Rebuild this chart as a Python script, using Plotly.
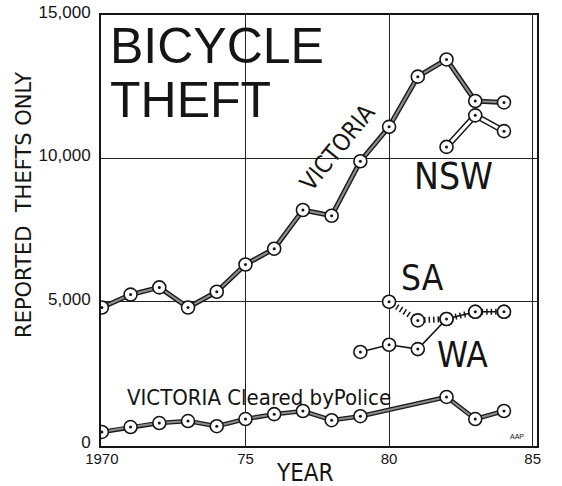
import plotly.graph_objects as go

years_vic = [1970, 1971, 1972, 1973, 1974, 1975, 1976, 1977, 1978, 1979, 1980, 1981, 1982, 1983, 1984]
victoria = [4800, 5250, 5500, 4800, 5350, 6300, 6850, 8200, 8000, 9900, 11100, 12850, 13450, 12000, 11950]

years_nsw = [1982, 1983, 1984]
nsw = [10400, 11500, 10950]

years_sa = [1980, 1981, 1982, 1983, 1984]
sa = [5000, 4350, 4400, 4650, 4650]

years_wa = [1979, 1980, 1981, 1982, 1983, 1984]
wa = [3250, 3500, 3350, 4400, 4650, 4650]

years_pol = [1970, 1971, 1972, 1973, 1974, 1975, 1976, 1977, 1978, 1979, 1980, 1981, 1982, 1983, 1984]
police = [460, 630, 770, 840, 660, 910, 1080, 1190, 870, 1010, None, None, 1680, 910, 1190]

x_tickvals = [1970, 1975, 1980, 1985]
x_ticktext = ["1970", "75", "80", "85"]
y_tickvals = [0, 5000, 10000, 15000]
y_ticktext = ["0", "5,000", "10,000", "15,000"]

NARROW = "DejaVu Sans Condensed, sans-serif"
SANS = "Liberation Sans, Arial, Helvetica, sans-serif"
INK = "#151515"

fig = go.Figure()

def thick_line(x, y, outer, inner, wo, wi):
    fig.add_trace(go.Scatter(x=x, y=y, mode="lines", connectgaps=True,
                             line=dict(color=outer, width=wo), hoverinfo="skip", showlegend=False))
    fig.add_trace(go.Scatter(x=x, y=y, mode="lines", connectgaps=True,
                             line=dict(color=inner, width=wi), hoverinfo="skip", showlegend=False))

def markers(x, y):
    fig.add_trace(go.Scatter(x=x, y=y, mode="markers",
                             marker=dict(symbol="circle", size=13, color="white",
                                         line=dict(color=INK, width=1.6)),
                             hoverinfo="skip", showlegend=False))
    fig.add_trace(go.Scatter(x=x, y=y, mode="markers",
                             marker=dict(symbol="circle", size=3, color=INK),
                             hoverinfo="skip", showlegend=False))

# lines
thick_line(years_vic, victoria, "#1a1a1a", "#8c8c8c", 5, 2.2)
thick_line(years_pol, police, "#1a1a1a", "#8c8c8c", 4.5, 2)
thick_line(years_nsw, nsw, "#1a1a1a", "white", 6, 3)
fig.add_trace(go.Scatter(x=years_wa, y=wa, mode="lines",
                         line=dict(color=INK, width=1.5), hoverinfo="skip", showlegend=False))
fig.add_trace(go.Scatter(x=years_sa, y=sa, mode="lines",
                         line=dict(color=INK, width=6, dash="1.5px,3px"),
                         hoverinfo="skip", showlegend=False))

# markers
markers(years_vic, victoria)
markers(years_nsw, nsw)
markers(years_sa, sa)
markers(years_wa, wa)
markers(years_pol, police)

annotations = [
    dict(x=1970.22, y=13930, text="BICYCLE", font=dict(family=SANS, size=50, color=INK),
         xanchor="left", yanchor="middle", showarrow=False),
    dict(x=1970.22, y=12020, text="THEFT", font=dict(family=SANS, size=50, color=INK),
         xanchor="left", yanchor="middle", showarrow=False),
    dict(x=1978.22, y=10400, text="VICTORIA", font=dict(family=NARROW, size=24, color=INK),
         textangle=-51, xanchor="center", yanchor="middle", showarrow=False),
    dict(x=1982.23, y=9380, text="NSW", font=dict(family=NARROW, size=37, color=INK),
         xanchor="center", yanchor="middle", showarrow=False),
    dict(x=1981.18, y=5820, text="SA", font=dict(family=NARROW, size=35, color=INK),
         xanchor="center", yanchor="middle", showarrow=False),
    dict(x=1982.54, y=3160, text="WA", font=dict(family=NARROW, size=35, color=INK),
         xanchor="center", yanchor="middle", showarrow=False),
    dict(x=1970.8, y=1660, text="VICTORIA Cleared byPolice", font=dict(family=NARROW, size=22, color=INK),
         xanchor="left", yanchor="middle", showarrow=False),
    dict(x=1984.45, y=300, text="AAP", font=dict(family=SANS, size=7, color=INK),
         xanchor="center", yanchor="middle", showarrow=False),
    dict(x=-0.177, xref="paper", y=8370, yref="y", text="REPORTED  THEFTS ONLY",
         font=dict(family="DejaVu Sans, sans-serif", size=21, color=INK), textangle=-90,
         xanchor="center", yanchor="middle", showarrow=False),
    dict(x=1977.07, y=0, yref="y", text="YEAR",
         font=dict(family=NARROW, size=24, color=INK), xanchor="center", yanchor="middle",
         showarrow=False, yshift=-28),
]

fig.update_layout(
    width=562, height=486,
    margin=dict(l=101, r=25, t=15, b=40, autoexpand=False),
    paper_bgcolor="white", plot_bgcolor="white",
    showlegend=False,
    annotations=annotations,
    xaxis=dict(range=[1969.97, 1985.15], tickvals=x_tickvals, ticktext=x_ticktext,
               showgrid=True, gridcolor="#222", gridwidth=1, zeroline=False,
               showline=True, linecolor=INK, linewidth=2, mirror=True, automargin=False,
               ticks="", ticklabelstandoff=-2,
               tickfont=dict(family=SANS, size=15, color=INK)),
    yaxis=dict(range=[-30, 15000], tickvals=y_tickvals, ticktext=y_ticktext,
               showgrid=True, gridcolor="#222", gridwidth=1, zeroline=False,
               showline=True, linecolor=INK, linewidth=2, mirror=True, automargin=False,
               ticks="", ticklabelstandoff=5, ticklabelshift=-3,
               tickfont=dict(family=SANS, size=17, color=INK)),
)

# remove the browser's default 8px body margin so the figure fills the window exactly
fig.write_html("out.html", config={"displayModeBar": False},
               post_script="document.body.style.margin='0px';")
